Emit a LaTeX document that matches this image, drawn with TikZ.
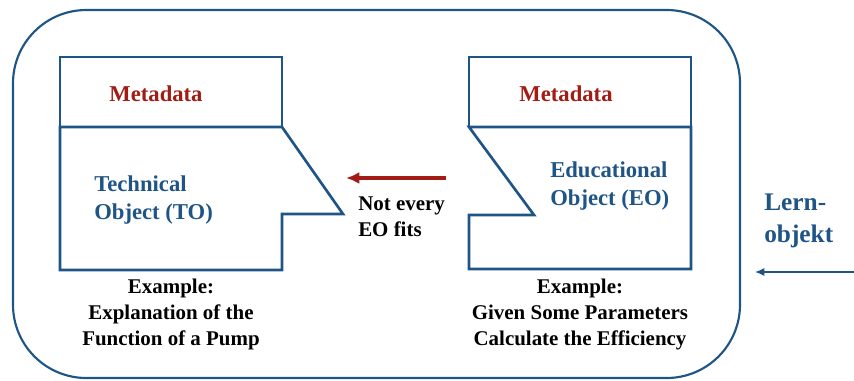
\documentclass[tikz,border=0pt]{standalone}
\usepackage{fontspec}
\setmainfont{Liberation Serif}
\usetikzlibrary{arrows.meta}
\definecolor{lblue}{RGB}{31,84,135}
\definecolor{lred}{RGB}{160,28,20}

\begin{document}
\begin{tikzpicture}[x=0.75pt,y=-0.75pt,
		box/.style={draw=lblue,line width=2pt},
		meta/.style={text=lred,font=\bfseries\fontsize{17}{20}\selectfont,inner sep=0pt},
		obj/.style={text=lblue,font=\bfseries\fontsize{17}{20.5}\selectfont,align=left,inner sep=0pt},
		expl/.style={font=\bfseries\fontsize{15.7}{19.5}\selectfont,align=center,inner sep=0pt}]
		\useasboundingbox (0,0) rectangle (854,380);
		\draw[lblue,line width=1.6pt,rounded corners=55] (13,10) rectangle (740,378);
		% technical object
		\draw[box] (60,57) rectangle (282,127);
		\draw[box] (60,127)--(282,127)--(343,214)--(282,214)--(282,270)--(60,270)--cycle;
		\node[meta] (tometa) at (156,94) {Metadata};
		\node[obj,anchor=west] (to) at (94,200) {Technical\\Object (TO)};
		\node[expl] (toex) at (171,314) {Example:\\Explanation of the\\Function of a Pump};
		% educational object
		\draw[box] (469,57) rectangle (691,127);
		\draw[box] (691,127)--(469,127)--(534,215)--(469,215)--(469,269)--(691,269)--cycle;
		\node[meta] (eometa) at (566,94) {Metadata};
		\node[obj,anchor=west] (eo) at (550,186) {Educational\\Object (EO)};
		\node[expl] (eoex) at (580,314) {Example:\\Given Some Parameters\\Calculate the Efficiency};
		% fit arrow
		\coordinate (fitS) at (446,178);
		\coordinate (fitE) at (346,178);
		\draw[-{Latex[length=10pt,width=9pt]},lred,line width=3pt] (fitS)--(fitE);
		\node[expl,align=left,anchor=west] (fit) at (358,217) {Not every\\EO fits};
		% lernobjekt
		\node[obj,anchor=west,font=\bfseries\fontsize{19}{24}\selectfont] (lo) at (764,221) {Lern-\\objekt};
		\coordinate (loS) at (854,272);
		\coordinate (loE) at (755,272);
		\draw[-{Latex[length=7pt,width=6pt]},lblue,line width=0.9pt] (loS)--(loE);
	\end{tikzpicture}
\end{document}
